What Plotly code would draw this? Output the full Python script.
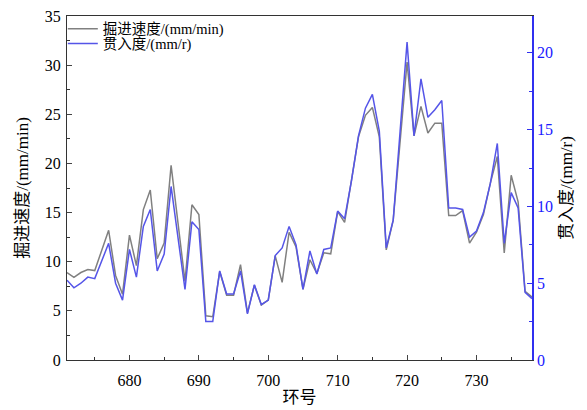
import plotly.graph_objects as go

rings = list(range(671, 739))

advance_speed = [8.9, 8.4, 8.9, 9.2, 9.1, 11.2, 13.2, 8.6, 6.7, 12.7,
                 9.6, 15.3, 17.3, 10.3, 11.9, 19.8, 13.8, 8.0, 15.8, 14.8,
                 4.5, 4.4, 9.0, 6.6, 6.6, 9.7, 4.8, 7.6, 5.6, 6.1,
                 10.6, 7.9, 13.0, 11.5, 7.2, 10.2, 8.8, 10.9, 10.8, 15.1,
                 14.0, 18.3, 22.7, 24.9, 25.7, 22.7, 11.2, 14.2, 22.3, 30.3,
                 22.8, 25.8, 23.1, 24.1, 24.1, 14.7, 14.7, 15.2, 11.9, 13.0,
                 14.8, 18.0, 20.7, 10.9, 18.8, 16.1, 7.0, 6.4]

penetration = [5.2, 4.7, 5.0, 5.4, 5.3, 6.4, 7.6, 5.0, 3.9, 7.2,
               5.4, 8.7, 9.8, 5.8, 6.9, 11.3, 7.9, 4.6, 9.0, 8.5,
               2.5, 2.5, 5.8, 4.3, 4.3, 5.8, 3.0, 4.9, 3.6, 3.9,
               6.8, 7.3, 8.7, 7.5, 4.6, 7.1, 5.6, 7.2, 7.3, 9.7,
               9.2, 11.7, 14.6, 16.4, 17.3, 14.9, 7.3, 9.1, 14.9, 20.7,
               14.6, 18.3, 15.8, 16.3, 16.9, 9.9, 9.9, 9.8, 8.0, 8.4,
               9.6, 11.5, 14.1, 7.6, 10.9, 9.9, 4.4, 4.0]

name_speed = "掘进速度/(mm/min)"
name_pen = "贯入度/(mm/r)"
x_title = "环号"

FONT = "Liberation Serif, Times New Roman, Noto Sans CJK SC, serif"
BLUE_AX = "#3030f0"

fig = go.Figure()
fig.add_trace(go.Scatter(x=rings, y=advance_speed, mode="lines", name=name_speed,
                         line=dict(color="#808080", width=1.5), yaxis="y",
                         legend="legend"))
fig.add_trace(go.Scatter(x=rings, y=penetration, mode="lines", name=name_pen,
                         line=dict(color="#5555e8", width=1.5), yaxis="y2",
                         legend="legend2"))

legend_common = dict(xanchor="left", yanchor="top", bgcolor="rgba(255,255,255,0)",
                     font=dict(size=14.5, family=FONT), itemwidth=30,
                     yref="container")

fig.update_layout(
    width=579, height=402,
    margin=dict(l=59, r=55, t=8, b=50, autoexpand=False),
    paper_bgcolor="white", plot_bgcolor="white",
    font=dict(family=FONT, size=16, color="black"),
    showlegend=True,
    legend=dict(x=-0.009, y=0.988, **legend_common),
    legend2=dict(x=-0.009, y=0.951, **legend_common),
    xaxis=dict(range=[671, 738], tick0=680, dtick=10, ticks="inside", ticklen=5,
               showgrid=False, zeroline=False, showline=True, linecolor="#333333",
               linewidth=1.2, mirror=True, ticklabelstandoff=6,
               minor=dict(dtick=5, tick0=675, ticks="inside", ticklen=3, tickcolor="#333333"),
               title=dict(text=x_title, font=dict(size=17), standoff=2),
               tickfont=dict(size=16)),
    yaxis=dict(range=[0, 35], dtick=5, ticks="inside", ticklen=5,
               showgrid=False, zeroline=False, showline=True, linecolor="#333333",
               linewidth=1.2, ticklabelstandoff=2, ticklabeloverflow="allow",
               minor=dict(dtick=2.5, ticks="inside", ticklen=3, tickcolor="#333333"),
               title=dict(text=name_speed, font=dict(size=17), standoff=11),
               tickfont=dict(size=16)),
    yaxis2=dict(range=[0, 22.4], dtick=5, ticks="inside", ticklen=5,
                overlaying="y", side="right", anchor="x",
                showgrid=False, zeroline=False, showline=True, linecolor=BLUE_AX,
                linewidth=1.5, tickcolor=BLUE_AX,
                minor=dict(dtick=2.5, ticks="inside", ticklen=3, tickcolor=BLUE_AX),
                title=dict(text=name_pen, font=dict(size=17, color="black"), standoff=8),
                tickfont=dict(size=16, color="#1a1aff")),
)

fig.write_html("out.html")
